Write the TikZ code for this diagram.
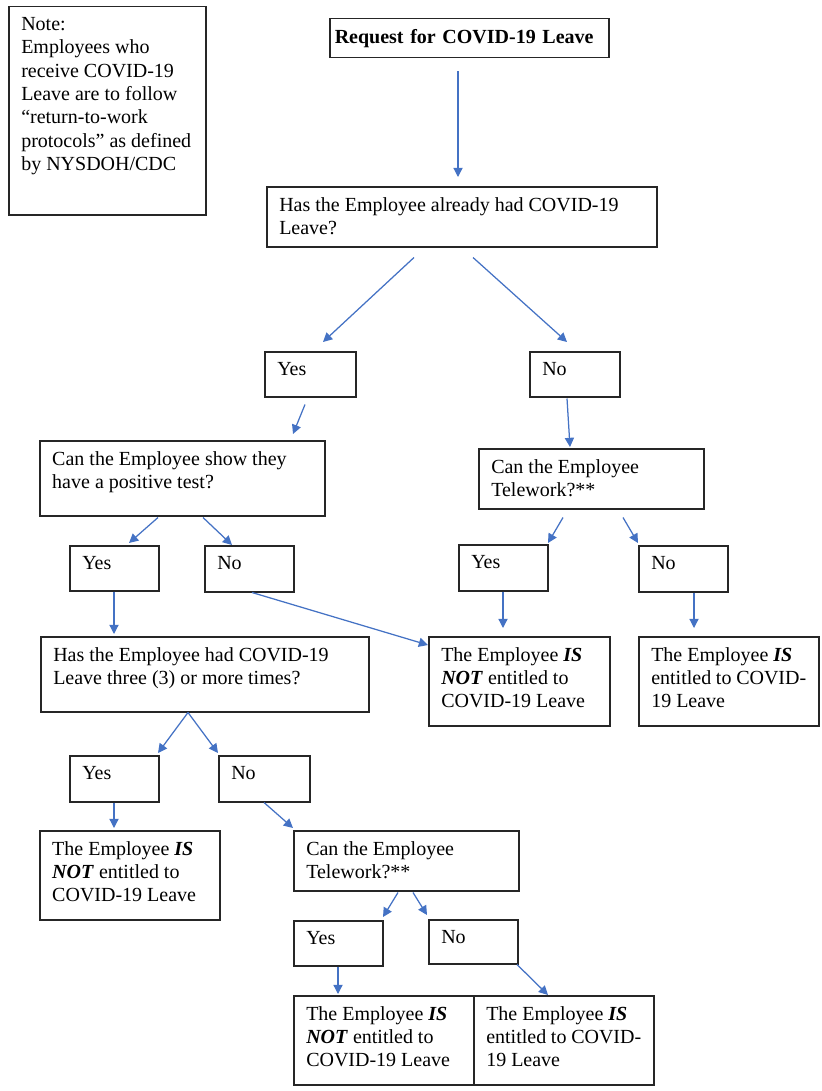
\documentclass[tikz,border=0pt]{standalone}
\usepackage{fontspec}
\setmainfont{Liberation Serif}
\usetikzlibrary{arrows.meta,calc}
\definecolor{arrblue}{HTML}{4472C4}
\newlength\padx \setlength\padx{7.5pt}
\newlength\pady \setlength\pady{6.3pt}
\tikzset{
  box/.style={draw=black!85, line width=0.9pt, anchor=north west,
    inner xsep=\padx, inner ysep=\pady, font=\fontsize{12}{14}\selectfont},
  arr/.style={draw=arrblue, line width=0.75pt, -{Triangle[length=5.5pt,width=5.5pt]}}
}
\newcommand\flowbox[6]{%
  \pgfmathsetlengthmacro\bxw{(#4-#2)*0.6pt-2*\padx}%
  \pgfmathsetlengthmacro\bxh{(#5-#3)*0.6pt-2*\pady}%
  \node[box] (#1) at (#2,#3) {\begin{minipage}[t][\bxh][t]{\bxw}\raggedright #6\end{minipage}};%
}
\newcommand\emis{\textbf{\textit{IS}}}
\newcommand\emnot{\textbf{\textit{NOT}}}
\begin{document}
\begin{tikzpicture}[x=0.6pt,y=-0.6pt]
\useasboundingbox (0,0) rectangle (822,1091);
% note
\flowbox{note}{8}{6}{205}{214}{Note:\\Employees who\\receive COVID-19\\Leave are to follow\\“return-to-work\\protocols” as defined\\by NYSDOH/CDC}
% request
\node[box, inner xsep=3pt, inner ysep=0pt, minimum height=23.4pt, text width=161.4pt, align=left, font=\fontsize{12}{14}\selectfont\bfseries] (req) at (329,18) {Request for COVID-19 Leave};
\flowbox{q1}{266}{186}{656}{246}{Has the Employee already had COVID-19\\Leave?}
\flowbox{yes1}{264}{351}{355}{396}{Yes}
\flowbox{no1}{529}{351}{619}{396}{No}
\flowbox{q2}{39}{440}{324}{515}{Can the Employee show they\\have a positive test?}
\flowbox{tele1}{478}{448}{703}{508}{Can the Employee\\Telework?**}
\flowbox{yes2}{69}{545}{158}{590}{Yes}
\flowbox{no2}{204}{545}{293}{591}{No}
\flowbox{yes3}{458}{544}{547}{590}{Yes}
\flowbox{no3}{638}{545}{727}{591}{No}
\flowbox{q3}{40}{636}{368}{711}{Has the Employee had COVID-19\\Leave three (3) or more times?}
\flowbox{not2}{428}{636}{609}{725}{The Employee \emis\\\emnot{} entitled to\\COVID-19 Leave}
\flowbox{is1}{638}{636}{818}{725}{The Employee \emis\\entitled to COVID-\\19 Leave}
\flowbox{yes4}{69}{755}{158}{801}{Yes}
\flowbox{no4}{218}{755}{309}{801}{No}
\flowbox{not3}{39}{830}{219}{919}{The Employee \emis\\\emnot{} entitled to\\COVID-19 Leave}
\flowbox{tele2}{293}{830}{518}{890}{Can the Employee\\Telework?**}
\flowbox{yes5}{293}{920}{382}{965}{Yes}
\flowbox{no5}{428}{919}{517}{963}{No}
\flowbox{not4}{293}{995}{473}{1084}{The Employee \emis\\\emnot{} entitled to\\COVID-19 Leave}
\flowbox{is2}{473}{995}{653}{1084}{The Employee \emis\\entitled to COVID-\\19 Leave}
% connectors
\draw[arr] ($(req.south west)+(129,13)$) -- ($(q1.north west)+(192,-9)$);
\draw[arr] ($(q1.south west)+(148,10)$) -- ($(yes1.north west)+(59,-9)$);
\draw[arr] ($(q1.south west)+(207,10)$) -- ($(no1.north west)+(38,-9)$);
\draw[arr] ($(yes1.south west)+(41,7)$) -- ($(q2.north west)+(254,-6)$);
\draw[arr] ($(no1.south west)+(38,1)$) -- ($(tele1.north west)+(92,-1)$);
\draw[arr] ($(q2.south west)+(119,1)$) -- ($(yes2.north west)+(60,-2)$);
\draw[arr] ($(q2.south west)+(164,1)$) -- ($(no2.north west)+(28,0)$);
\draw[arr] ($(tele1.south west)+(85,8)$) -- ($(yes3.north west)+(90,-1)$);
\draw[arr] ($(tele1.south west)+(145,8)$) -- ($(no3.north west)+(0,-2)$);
\draw[arr] ($(yes2.south west)+(45,0)$) -- ($(q3.north west)+(74,-2)$);
\draw[arr] ($(no2.south west)+(48,0)$) -- ($(not2.north west)+(0,9)$);
\draw[arr] ($(yes3.south west)+(45,0)$) -- ($(not2.north west)+(75,-8)$);
\draw[arr] ($(no3.south west)+(56,0)$) -- ($(is1.north west)+(56,-8)$);
\draw[arr] ($(q3.south west)+(148,0)$) -- ($(yes4.north west)+(89,-2)$);
\draw[arr] ($(q3.south west)+(148,0)$) -- ($(no4.north west)+(0,-2)$);
\draw[arr] ($(yes4.south west)+(45,0)$) -- ($(not3.north west)+(75,-2)$);
\draw[arr] ($(no4.south west)+(46,0)$) -- ($(tele2.north west)+(0,-2)$);
\draw[arr] ($(tele2.south west)+(105,1)$) -- ($(yes5.north west)+(90,-3)$);
\draw[arr] ($(tele2.south west)+(120,1)$) -- ($(no5.north west)+(-1,-4)$);
\draw[arr] ($(yes5.south west)+(45,0)$) -- ($(not4.north west)+(45,-1)$);
\draw[arr] ($(no5.south west)+(89,0)$) -- ($(is2.north west)+(75,0)$);
\end{tikzpicture}
\end{document}
